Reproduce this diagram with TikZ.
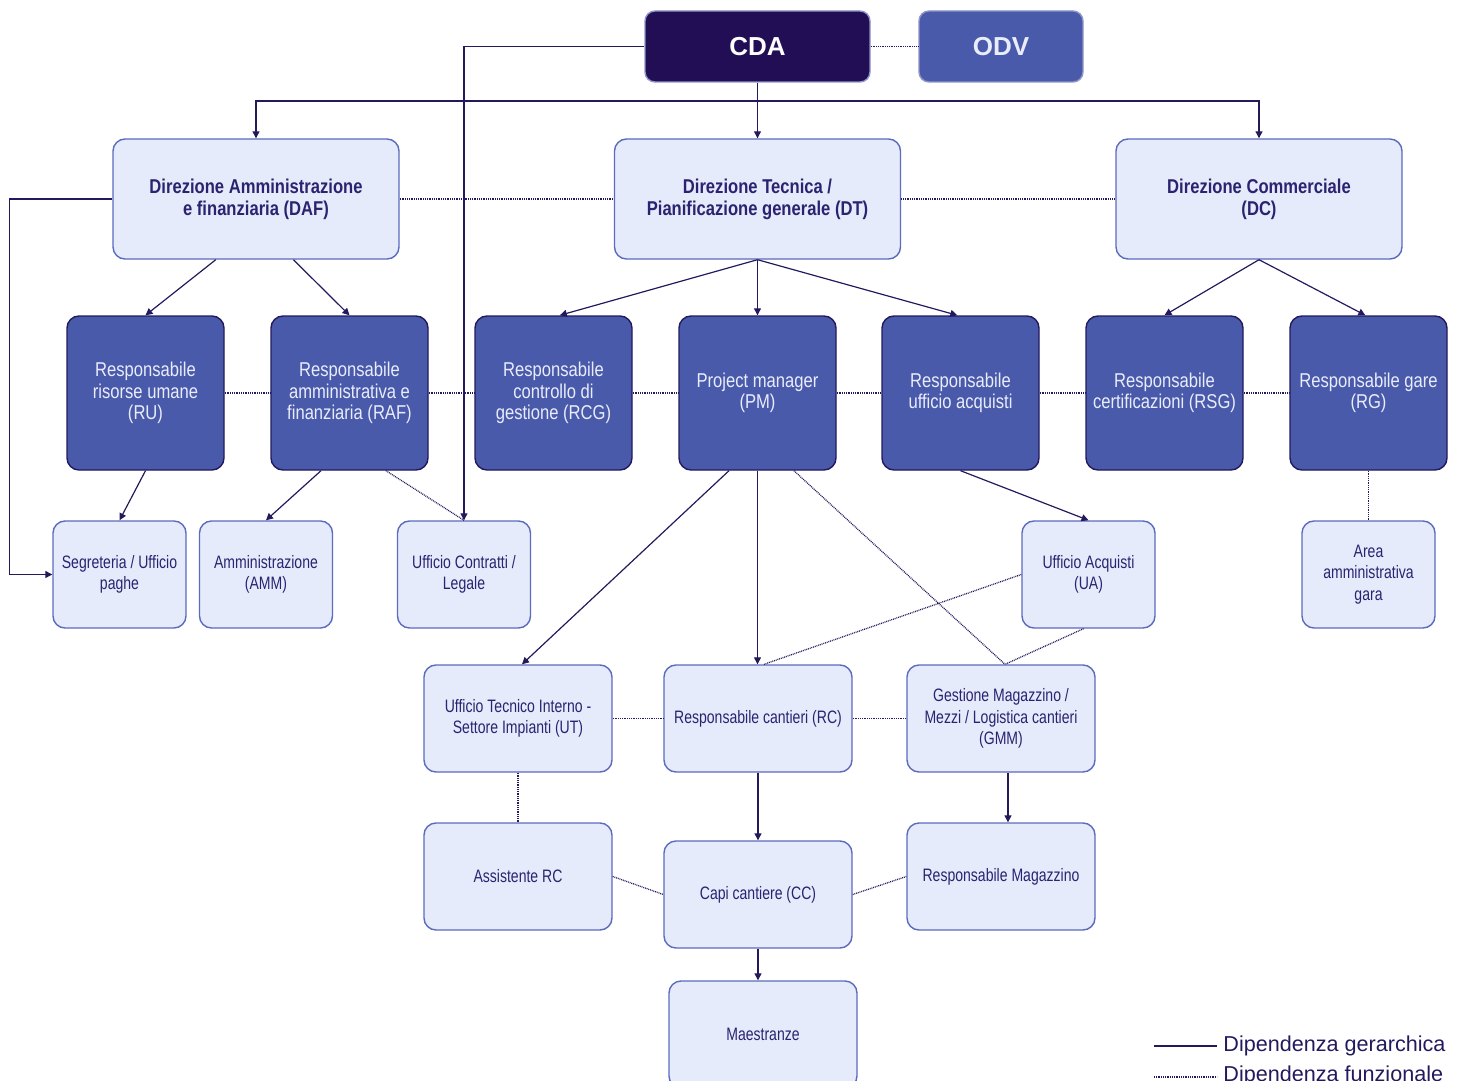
\documentclass[tikz,border=0pt]{standalone}
\usepackage{fontspec}
\setmainfont{Liberation Sans}
\newfontfamily\narrowfont[FakeStretch=0.83]{Liberation Sans}
\newfontfamily\narrowerfont[FakeStretch=0.78]{Liberation Sans}
\usetikzlibrary{calc,arrows.meta}
\definecolor{navy}{HTML}{231A5E}
\definecolor{cdafill}{HTML}{220E55}
\definecolor{midblue}{HTML}{4A5AAB}
\definecolor{lightfill}{HTML}{E6EBFC}
\definecolor{lightedge}{HTML}{5B6BBD}
\definecolor{topedge}{HTML}{8F95C6}
\definecolor{lighttext}{HTML}{E9ECFB}
\definecolor{darktext}{HTML}{2B2370}
\tikzset{
  topbox/.style={rounded corners=5pt,line width=0.7pt,draw=topedge,minimum width=112.5pt,minimum height=35.5pt,font=\fontsize{13}{15}\selectfont\bfseries},
  dirbox/.style={rounded corners=6pt,draw=lightedge,fill=lightfill,line width=0.7pt,minimum width=143pt,minimum height=60pt,align=center,text=darktext,font=\narrowfont\fontsize{10}{11}\selectfont\bfseries},
  respbox/.style={rounded corners=6pt,draw=navy,fill=midblue,line width=0.7pt,minimum width=78.5pt,minimum height=77pt,align=center,text=lighttext,font=\narrowfont\fontsize{10}{10.8}\selectfont},
  uffbox/.style={rounded corners=6pt,draw=lightedge,fill=lightfill,line width=0.7pt,minimum width=66.5pt,minimum height=53.5pt,align=center,text=darktext,font=\narrowerfont\fontsize{9}{10.8}\selectfont},
  widebox/.style={uffbox,minimum width=94pt},
  hier/.style={draw=navy,line width=0.6pt},
  arr/.style={hier,-{Triangle[length=3.5pt,width=3.5pt]}},
  funz/.style={draw=navy,line width=0.65pt,dash pattern=on 0.45pt off 0.45pt}
}
\begin{document}
\begin{tikzpicture}[x=0.5pt,y=-0.5pt]
\useasboundingbox (0,0) rectangle (1463,1081);
\clip (0,0) rectangle (1463,1081);
\node[topbox,fill=cdafill,text=white] (cda) at (757.5,46.5) {CDA};
\node[topbox,fill=midblue,text=lighttext,minimum width=82pt] (odv) at (1001,46.5) {ODV};

\node[dirbox] (daf) at (256,199) {Direzione Amministrazione\\e finanziaria (DAF)};
\node[dirbox] (dt) at (757.5,199) {Direzione Tecnica /\\Pianificazione generale (DT)};
\node[dirbox] (dc) at (1259,199) {Direzione Commerciale\\(DC)};

\node[respbox] (ru) at (145.5,393) {Responsabile\\risorse umane\\(RU)};
\node[respbox] (raf) at (349.5,393) {Responsabile\\amministrativa e\\finanziaria (RAF)};
\node[respbox] (rcg) at (553.5,393) {Responsabile\\controllo di\\gestione (RCG)};
\node[respbox] (pm) at (757.5,393) {Project manager\\(PM)};
\node[respbox] (rua) at (960.5,393) {Responsabile\\ufficio acquisti};
\node[respbox] (rsg) at (1164.5,393) {Responsabile\\certificazioni (RSG)};
\node[respbox] (rg) at (1368.5,393) {Responsabile gare\\(RG)};

\node[uffbox] (seg) at (119.5,574.5) {Segreteria / Ufficio\\paghe};
\node[uffbox] (amm) at (266,574.5) {Amministrazione\\(AMM)};
\node[uffbox] (ucl) at (464,574.5) {Ufficio Contratti /\\Legale};
\node[uffbox] (ua) at (1088.5,574.5) {Ufficio Acquisti\\(UA)};
\node[uffbox] (agara) at (1368.5,574.5) {Area\\amministrativa\\gara};

\node[widebox] (ut) at (518,718.5) {Ufficio Tecnico Interno -\\Settore Impianti (UT)};
\node[widebox] (rc) at (758,718.5) {Responsabile cantieri (RC)};
\node[widebox] (gmm) at (1001,718.5) {Gestione Magazzino /\\Mezzi / Logistica cantieri\\(GMM)};

\node[widebox] (arc) at (518,876.5) {Assistente RC};
\node[widebox] (cc) at (758,894.5) {Capi cantiere (CC)};
\node[widebox] (rmag) at (1001,876.5) {Responsabile Magazzino};
\node[widebox] (mae) at (763,1034.5) {Maestranze};

\coordinate (bus) at (757.5,101);
\draw[arr] (cda.south) -- (dt.north);
\draw[arr] (bus) -| (daf.north);
\draw[arr] (bus) -| (dc.north);
\draw[arr] (cda.west) -| (ucl.north);
\draw[arr] (daf.west) -- ++(-103,0) |- (seg.west);

\draw[arr] ($(daf.south west)!.36!(daf.south east)$) -- (ru.north);
\draw[arr] ($(daf.south west)!.63!(daf.south east)$) -- (raf.north);
\draw[arr] (dt.south) -- ($(rcg.north west)!.54!(rcg.north east)$);
\draw[arr] (dt.south) -- (pm.north);
\draw[arr] (dt.south) -- ($(rua.north west)!.48!(rua.north east)$);
\draw[arr] (dc.south) -- (rsg.north);
\draw[arr] (dc.south) -- ($(rg.north west)!.48!(rg.north east)$);

\draw[arr] (ru.south) -- (seg.north);
\draw[arr] ($(raf.south west)!.32!(raf.south east)$) -- (amm.north);
\draw[funz] ($(raf.south west)!.73!(raf.south east)$) -- (ucl.north);
\draw[arr] (rua.south) -- (ua.north);
\draw[funz] (rg.south) -- (agara.north);

\draw[arr] ($(pm.south west)!.32!(pm.south east)$) -- ($(ut.north)+(4,0)$);
\draw[arr] (pm.south) -- (pm.south |- rc.north);
\draw[funz] ($(pm.south west)!.73!(pm.south east)$) -- ($(gmm.north)+(4,0)$);
\draw[funz] (ua.west) -- ($(rc.north)+(6,0)$);
\draw[funz] ($(ua.south)+(-5,0)$) -- ($(gmm.north)+(4,0)$);

\draw[funz] (ut.south) -- (arc.north);
\draw[arr] (rc.south) -- (cc.north);
\draw[arr] ($(gmm.south)+(7,0)$) -- ($(rmag.north)+(7,0)$);
\draw[funz] (arc.east) -- (cc.west);
\draw[funz] (cc.east) -- (rmag.west);
\draw[arr] (cc.south) -- (cc.south |- mae.north);

\draw[funz] (cda.east) -- (odv.west);
\draw[funz] (daf.east) -- (dt.west);
\draw[funz] (dt.east) -- (dc.west);
\draw[funz] (ru.east) -- (raf.west);
\draw[funz] (raf.east) -- (rcg.west);
\draw[funz] (rcg.east) -- (pm.west);
\draw[funz] (pm.east) -- (rua.west);
\draw[funz] (rua.east) -- (rsg.west);
\draw[funz] (rsg.east) -- (rg.west);
\draw[funz] (ut.east) -- (rc.west);
\draw[funz] (rc.east) -- (gmm.west);

\node[anchor=west,inner sep=0pt,text=navy,font=\fontsize{10.8}{13}\selectfont] (lgger) at (1223,1046) {Dipendenza gerarchica};
\node[anchor=west,inner sep=0pt,text=navy,font=\fontsize{10.8}{13}\selectfont] (lgfun) at (1223,1076) {Dipendenza funzionale};
\coordinate (lga) at (1154,1046);
\coordinate (lgb) at (1154,1077);
\draw[hier] (lga) -- ($(lga -| lgger.west)+(-6,0)$);
\draw[funz] (lgb) -- ($(lgb -| lgfun.west)+(-6,0)$);
\end{tikzpicture}
\end{document}
